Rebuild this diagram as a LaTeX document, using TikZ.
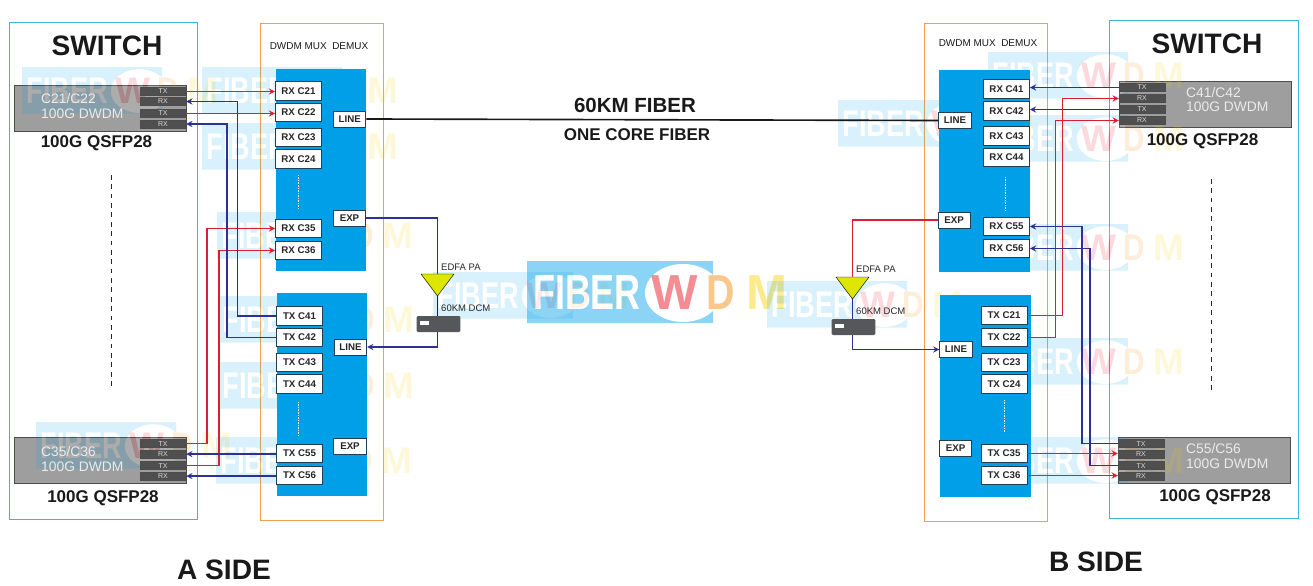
\documentclass[tikz,border=0pt]{standalone}
\usepackage{fontspec}
\setmainfont{Liberation Sans}
\definecolor{swline}{HTML}{3DB4DC}
\definecolor{muxline}{HTML}{F0A04B}
\definecolor{panelblue}{HTML}{009FE8}
\definecolor{boxline}{HTML}{1F3F55}
\definecolor{modgray}{HTML}{9E9E9E}
\definecolor{portgray}{HTML}{4F4F4F}
\definecolor{dcmgray}{HTML}{55575A}
\definecolor{fibred}{HTML}{DC1E32}
\definecolor{fibblue}{HTML}{2F3192}
\definecolor{edfayellow}{HTML}{DCE600}
\definecolor{wmw}{HTML}{E60012}
\definecolor{wmd}{HTML}{F08300}
\definecolor{wmm}{HTML}{F8D000}
\begin{document}
\begin{tikzpicture}[x=0.03cm,y=-0.03cm,
    frame/.style={draw, line width=0.8pt},
    panel/.style={fill=panelblue},
    chbox/.style={draw=boxline, fill=white, line width=0.8pt, minimum width=1.38cm, minimum height=0.56cm, inner sep=0pt, font=\fontsize{8.3}{9}\selectfont\bfseries, text=black!85},
    portbox/.style={chbox, minimum width=0.97cm, minimum height=0.48cm},
    module/.style={draw=black!70, fill=modgray, line width=0.7pt, minimum width=5.16cm, minimum height=1.38cm, inner sep=0pt},
    port/.style={draw=black!70, fill=portgray, line width=0.4pt, minimum width=1.38cm, minimum height=0.24cm, inner sep=0pt, text=white!85!black, font=\fontsize{6}{6}\selectfont},
    modtext/.style={anchor=west, inner sep=0pt, text=white!92!black, font=\fontsize{11.8}{14}\selectfont},
    dcm/.style={fill=dcmgray, rounded corners=1pt, minimum width=1.31cm, minimum height=0.48cm, inner sep=0pt},
    amp/.style={draw=black, fill=edfayellow, line width=0.4pt},
    redfib/.style={draw=fibred, line width=1.35pt, -stealth},
    bluefib/.style={draw=fibblue, line width=1.35pt, -stealth},
    title/.style={font=\fontsize{24}{27}\selectfont\bfseries, text=black!90},
    qsfp/.style={font=\fontsize{14.5}{17}\selectfont\bfseries, text=black!90},
    small/.style={anchor=west, inner sep=0pt, font=\fontsize{8.1}{9}\selectfont, text=black!85},
    muxtitle/.style={inner sep=0pt, font=\fontsize{8.5}{10}\selectfont, text=black!90},
    wmtext/.style={inner sep=0pt, font=\fontsize{42}{46}\selectfont\bfseries}]
    \useasboundingbox (0,0) rectangle (1313,585);

    \draw[frame, swline] (9,22) rectangle (197,519);
    \draw[frame, swline] (1109,20) rectangle (1298,518);
    \draw[frame, muxline] (260.5,23) rectangle (383,520.5);
    \draw[frame, muxline] (924.5,23.5) rectangle (1047.5,521.5);

    \node[module] (moda) at (100,108) {};
    \node[module] (modc) at (100.5,460) {};
    \node[module] (modb) at (1205,104) {};
    \node[module] (modd) at (1204,460) {};

    \foreach \wx/\wy/\ws/\wo in {
        22/67/0.753/0.15, 202/67/0.753/0.15, 202/123/0.753/0.15, 217/212/0.753/0.15,
        218/296/0.753/0.15, 218/362/0.753/0.15, 36/422/0.753/0.15, 216/437/0.753/0.15,
        988/52/0.753/0.15, 838/100/0.753/0.15, 988/115/0.753/0.15, 988/224/0.753/0.15,
        988/338/0.753/0.15, 988/437/0.753/0.15, 433/272/0.753/0.15,
        527/261/1/0.45, 767/281/0.753/0.15}
    {
        \begin{scope}[shift={(\wx,\wy)}, scale=\ws, transform shape, transparency group, opacity=\wo]
            \fill[panelblue] (0,0) rectangle (186,62);
            \begin{scope}
                \clip (0,0) rectangle (186,62);
                \fill[white] (156,32) ellipse (38 and 29);
            \end{scope}
            \node[wmtext, xscale=0.73, white] (fib\wx) at (60,32) {FIBER};
            \node[wmtext, wmw] (w\wx) at (148,32) {W};
            \node[wmtext, xscale=0.8, wmd] (d\wx) at (194,32) {D};
            \node[wmtext, wmm] (m\wx) at (240,32) {M};
        \end{scope}
    }

    \fill[panel] (276,69) rectangle (366,271);
    \fill[panel] (277,293) rectangle (367,496);
    \fill[panel] (938.5,69.5) rectangle (1029.5,271.5);
    \fill[panel] (939.5,295) rectangle (1030.5,496.5);
    \draw[white, densely dotted, line width=0.4pt] (298,175) -- (298,208);
    \draw[white, densely dotted, line width=0.4pt] (298,402) -- (298,436);
    \draw[white, densely dotted, line width=0.4pt] (1005,177) -- (1005,210);
    \draw[white, densely dotted, line width=0.4pt] (1004,400) -- (1004,432);
    \draw[black!85, line width=1.5pt, dash pattern=on 4pt off 4pt] (111.5,175) -- (111.5,387);
    \draw[black!85, line width=1.5pt, dash pattern=on 4pt off 4pt] (1211.5,179) -- (1211.5,391);

    \node[title] (swa) at (107,46) {SWITCH};
    \node[title] (swb) at (1207,43.5) {SWITCH};
    \node[muxtitle] (muxa) at (319,46) {DWDM MUX\ \ DEMUX};
    \node[muxtitle] (muxb) at (988,43.5) {DWDM MUX\ \ DEMUX};
    \node[title] (sidea) at (224,570) {A SIDE};
    \node[title] (sideb) at (1096,562) {B SIDE};
    \node[font=\fontsize{17.5}{20}\selectfont\bfseries, text=black!90] (fibtitle) at (635,105) {60KM FIBER};
    \node[font=\fontsize{14.5}{17}\selectfont\bfseries, text=black!90] (coretitle) at (637,135) {ONE CORE FIBER};

    \node[qsfp] (qsfpa) at (96.5,143) {100G QSFP28};
    \node[qsfp] (qsfpc) at (103,498) {100G QSFP28};
    \node[qsfp] (qsfpb) at (1202.5,141) {100G QSFP28};
    \node[qsfp] (qsfpd) at (1215,497) {100G QSFP28};
    \node[modtext] (ca) at (41,99) {C21/C22};
    \node[modtext] (ra) at (41,114) {100G DWDM};
    \node[modtext] (cc) at (41,452) {C35/C36};
    \node[modtext] (rc) at (41,467) {100G DWDM};
    \node[modtext] (cb) at (1186,93) {C41/C42};
    \node[modtext] (rb) at (1186,107) {100G DWDM};
    \node[modtext] (cd) at (1186,449) {C55/C56};
    \node[modtext] (rd) at (1186,464) {100G DWDM};

    \foreach \pname/\ptext/\px/\py in {
        pa1/TX/163/91.5, pa2/RX/163/101.5, pa3/TX/163/113.5, pa4/RX/163/124,
        pc1/TX/163/443.7, pc2/RX/163/454, pc3/TX/163/465.7, pc4/RX/163/476,
        pb1/TX/1142/87.5, pb2/RX/1142/98.5, pb3/TX/1142/109.5, pb4/RX/1142/120.5,
        pd1/TX/1141/443.7, pd2/RX/1141/454, pd3/TX/1141/465.7, pd4/RX/1141/476}
        \node[port] (\pname) at (\px,\py) {\ptext};

    \foreach \cname/\ctext/\cx/\cy in {
        rxc21/RX C21/298.5/91, rxc22/RX C22/298.5/112.5, rxc23/RX C23/298.5/137.5, rxc24/RX C24/298.5/159,
        rxc35/RX C35/298.5/228.5, rxc36/RX C36/298.5/250.5,
        txc41/TX C41/299.5/316, txc42/TX C42/299.5/337.5, txc43/TX C43/299.5/362.5, txc44/TX C44/299.5/384,
        txc55/TX C55/299.5/453.5, txc56/TX C56/299.5/475.5,
        rxc41/RX C41/1006.5/89, rxc42/RX C42/1006.5/111, rxc43/RX C43/1006.5/136, rxc44/RX C44/1006.5/157.5,
        rxc55/RX C55/1006.5/226.5, rxc56/RX C56/1006.5/248.5,
        txc21/TX C21/1004/315.5, txc22/TX C22/1004/337.5, txc23/TX C23/1004/362.5, txc24/TX C24/1004/384,
        txc35/TX C35/1004/453.5, txc36/TX C36/1004/475.5}
        \node[chbox] (\cname) at (\cx,\cy) {\ctext};

    \node[portbox] (linea) at (349.7,119) {LINE};
    \node[portbox] (expa) at (349.5,218) {EXP};
    \node[portbox] (lineb) at (350.5,347) {LINE};
    \node[portbox] (expc) at (350,446) {EXP};
    \node[portbox] (linec) at (955,120.5) {LINE};
    \node[portbox] (expb) at (954.2,220) {EXP};
    \node[portbox] (lined) at (956,349.5) {LINE};
    \node[portbox] (expd) at (955.5,448) {EXP};

    \draw[black!90, line width=1.4pt] (linea.east) -- (linec.west);

    \draw[amp] (421,274) -- (454,274) -- (437.5,296) coordinate (ampab) -- cycle;
    \draw[amp] (836,277) -- (869,277) -- (852.5,299) coordinate (ampbb) -- cycle;
    \coordinate (ampat) at (437.5,274);
    \coordinate (ampbt) at (852.5,277);
    \node[dcm] (dcma) at (438.5,324) {};
    \node[dcm] (dcmb) at (853.5,327) {};
    \fill[white] (420,321) rectangle (429,325);
    \fill[white] (835,324) rectangle (844,328);
    \node[small] (edfaa) at (441,267) {EDFA PA};
    \node[small] (edfab) at (856,269) {EDFA PA};
    \node[small] (dcmla) at (441,308) {60KM DCM};
    \node[small] (dcmlb) at (856,311) {60KM DCM};

    \draw[draw=fibblue, line width=1.35pt] (expa.east) -| (ampat);
    \draw[draw=fibred, line width=1.35pt] (expb.west) -| (ampbt);
    \draw[draw=fibblue!60!black, line width=0.6pt] (ampab) -- (ampab |- dcma.north);
    \draw[draw=fibblue, line width=1.2pt] (ampbb) -- (ampbb |- dcmb.north);
    \draw[bluefib] (ampab |- dcma.south) |- (lineb.east);
    \draw[bluefib] (ampbb |- dcmb.south) |- (lined.west);

    \draw[redfib] (pa1.east) -- (pa1.east -| rxc21.west);
    \draw[redfib] (pa3.east) -- (pa3.east -| rxc22.west);
    \draw[redfib] (pc1.east) -- ++(21,0) |- (rxc35.west);
    \draw[redfib] (pc3.east) -- ++(32.5,0) |- (rxc36.west);
    \draw[bluefib] (txc41.west) -- ++(-38.5,0) |- (pa2.east);
    \draw[bluefib] (txc42.west) -- ++(-49,0) |- (pa4.east);
    \draw[bluefib] (txc55.west |- pc2.east) -- (pc2.east);
    \draw[bluefib] (txc56.west |- pc4.east) -- (pc4.east);

    \draw[bluefib] (pb1.west) -- (pb1.west -| rxc41.east);
    \draw[bluefib] (pb3.west) -- (pb3.west -| rxc42.east);
    \draw[redfib] (txc21.east) -- ++(35,0) |- (pb2.west);
    \draw[redfib] (txc22.east) -- ++(28,0) |- (pb4.west);
    \draw[bluefib] (pd1.west) -- ++(-36,0) |- (rxc55.east);
    \draw[bluefib] (pd3.west) -- ++(-28,0) |- (rxc56.east);
    \draw[redfib] (txc35.east) -- (txc35.east -| pd2.west);
    \draw[redfib] (txc36.east) -- (txc36.east -| pd4.west);
\end{tikzpicture}
\end{document}
